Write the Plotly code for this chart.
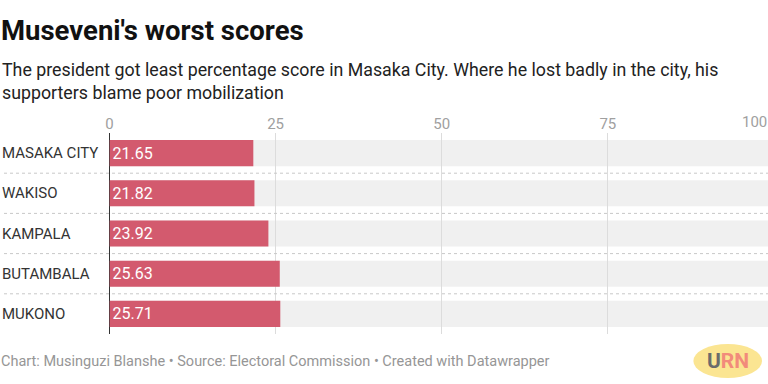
import plotly.graph_objects as go

categories = ["MASAKA CITY", "WAKISO", "KAMPALA", "BUTAMBALA", "MUKONO"]
values = [21.65, 21.82, 23.92, 25.63, 25.71]
tick_vals = [0, 25, 50, 75]
last_tick = 100

title = "Museveni's worst scores"
subtitle = ("The president got least percentage score in Masaka City. Where he lost badly in the city, his"
            "<br>supporters blame poor mobilization")
footer = "Chart: Musinguzi Blanshe • Source: Electoral Commission • Created with Datawrapper"

W, H = 768, 384
T, B = 133, 50
x0_px = 106
px_per_unit = 6.68
x_end = (W - x0_px) / px_per_unit
dom0 = x0_px / W

RED = "#d35a6e"
FONT = "Roboto, Arial, sans-serif"


def py(px):
    # pixel y (from top) to paper y
    return (H - B - px) / (H - T - B)


fig = go.Figure()
fig.add_trace(go.Bar(
    y=categories, x=values, orientation="h",
    marker=dict(color=RED, line=dict(width=0)),
    width=0.65,
    text=[f"{v:.2f}" for v in values],
    textposition="inside", insidetextanchor="start",
    textfont=dict(color="white", size=16, family=FONT),
    hoverinfo="skip",
))

shapes = []
for i, c in enumerate(categories):
    shapes.append(dict(type="rect", xref="x domain", yref="y", x0=0, x1=1,
                       y0=i - 0.325, y1=i + 0.325, fillcolor="#f0f0f0",
                       line=dict(width=0), layer="below"))
for i in range(len(categories) - 1):
    shapes.append(dict(type="line", xref="paper", yref="y", x0=0, x1=1,
                       y0=i + 0.5, y1=i + 0.5,
                       line=dict(color="#c8c8c8", width=1, dash="dot"), layer="above"))
shapes.append(dict(type="circle", xref="paper", yref="paper", x0=693 / W, x1=762 / W,
                   y0=py(378), y1=py(344), line=dict(width=0), fillcolor="#fbe592"))

annotations = []
for c in categories:
    annotations.append(dict(xref="paper", yref="y", x=0, y=c, xanchor="left", xshift=-4,
                            text=c, showarrow=False,
                            font=dict(size=15, color="#333333", family=FONT)))
annotations.append(dict(xref="paper", yref="paper", x=1, xshift=1,
                        y=1, yanchor="bottom", xanchor="right",
                        text=str(last_tick), showarrow=False,
                        font=dict(size=15, color="#a0a0a0", family=FONT)))
annotations.append(dict(xref="paper", yref="paper", x=0, xshift=-5, y=py(30), xanchor="left",
                        yanchor="middle", text=f"<b>{title}</b>", showarrow=False,
                        font=dict(size=27.5, color="#111111", family=FONT)))
annotations.append(dict(xref="paper", yref="paper", x=0, xshift=-4, y=py(81), xanchor="left",
                        yanchor="middle", text=subtitle, showarrow=False, align="left",
                        font=dict(size=17.8, color="#222222", family=FONT)))
annotations.append(dict(xref="paper", yref="paper", x=0, xshift=-5, y=py(361), xanchor="left",
                        yanchor="middle", text=footer, showarrow=False,
                        font=dict(size=14.5, color="#969696", family=FONT)))
annotations.append(dict(xref="paper", yref="paper", x=728 / W, y=py(361), xanchor="center",
                        yanchor="middle", showarrow=False,
                        text="<b><span style='color:#6b6b6b'>U</span><span style='color:#f28b7b'>RN</span></b>",
                        font=dict(size=21, family=FONT)))

fig.update_layout(
    width=W, height=H,
    margin=dict(l=0, r=0, t=T, b=B),
    paper_bgcolor="white", plot_bgcolor="white",
    showlegend=False,
    xaxis=dict(domain=[dom0, 1], range=[0, x_end], side="top",
               tickvals=tick_vals, ticks="", showgrid=True, gridcolor="#dcdcdc",
               gridwidth=1, zeroline=True, zerolinecolor="#333333", zerolinewidth=1,
               showline=False, tickfont=dict(size=15, color="#a0a0a0", family=FONT),
               fixedrange=True),
    yaxis=dict(categoryorder="array", categoryarray=categories, autorange="reversed",
               showticklabels=False, showgrid=False, zeroline=False, ticks="",
               fixedrange=True),
    shapes=shapes,
    annotations=annotations,
)

fig.write_html("out.html", config={"displayModeBar": False},
               post_script="document.body.style.margin='0';document.body.style.overflow='hidden';")
